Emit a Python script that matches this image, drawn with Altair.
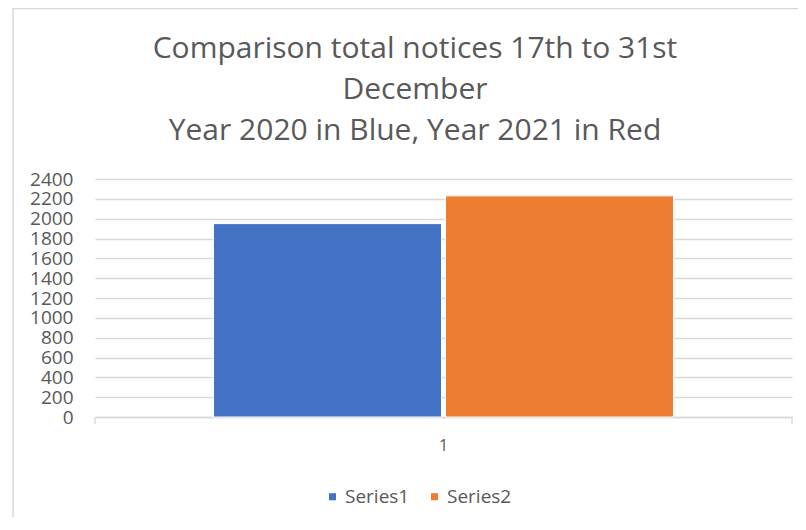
import altair as alt
import pandas as pd

categories = ["1", "1"]
series = ["Series1", "Series2"]
values = [1950, 2230]
colors = ["#4472C4", "#ED7D31"]
y_ticks = list(range(0, 2401, 200))
title_lines = [
    "Comparison total notices 17th to 31st",
    "December",
    "Year 2020 in Blue, Year 2021 in Red",
]

df = pd.DataFrame({"cat": categories, "series": series, "value": values})

W, H = 697, 238
FONT = "Open Sans"
GREY = "#595959"
LINE = "#d9d9d9"

bars = alt.Chart(df).mark_bar(stroke="white", strokeWidth=1).encode(
    x=alt.X(
        "cat:N",
        scale=alt.Scale(paddingInner=0, paddingOuter=0),
        axis=alt.Axis(
            title=None, labelAngle=0, ticks=False, domain=True,
            domainColor=LINE, domainWidth=1.3, labelFont=FONT, labelFontSize=16,
            labelColor=GREY, labelPadding=20,
        ),
    ),
    xOffset=alt.XOffset(
        "series:N", scale=alt.Scale(domain=series, paddingInner=0.01724, paddingOuter=0.5108)
    ),
    y=alt.Y(
        "value:Q",
        scale=alt.Scale(domain=[0, 2400], nice=False),
        axis=alt.Axis(
            values=y_ticks, format="d", title=None, domain=False, ticks=False,
            labelFont=FONT, labelFontSize=19, labelColor=GREY, labelPadding=22,
            labelOverlap=False, gridColor=LINE, gridWidth=1.3,
        ),
    ),
    color=alt.Color(
        "series:N",
        scale=alt.Scale(domain=series, range=colors),
        legend=alt.Legend(
            title=None, orient="none", legendX=228, legendY=308,
            direction="horizontal", symbolType="square", symbolSize=50,
            symbolStrokeWidth=0, labelFont=FONT, labelFontSize=19,
            labelColor=GREY, columnPadding=15, labelOffset=3,
        ),
    ),
)

one = pd.DataFrame({"a": [0]})
tick_l = alt.Chart(one).mark_rule(color=LINE, strokeWidth=1.3).encode(
    x=alt.value(0), y=alt.value(H), y2=alt.value(H + 7)
)
tick_r = alt.Chart(one).mark_rule(color=LINE, strokeWidth=1.3).encode(
    x=alt.value(W), y=alt.value(H), y2=alt.value(H + 7)
)
border_l = alt.Chart(one).mark_rule(color=LINE, strokeWidth=1.5).encode(
    x=alt.value(-82), y=alt.value(-171), y2=alt.value(H + 100)
)
border_t = alt.Chart(one).mark_rule(color=LINE, strokeWidth=1.5).encode(
    x=alt.value(-82), x2=alt.value(W + 6), y=alt.value(-170.5)
)

title_layers = []
for i, line in enumerate(title_lines):
    title_layers.append(
        alt.Chart(pd.DataFrame({"t": [line]})).mark_text(
            font=FONT, fontSize=30, color=GREY, align="center", baseline="alphabetic"
        ).encode(text="t:N", x=alt.value(320), y=alt.value(-121 + 41 * i))
    )

chart = alt.layer(border_l, border_t, bars, tick_l, tick_r, *title_layers).properties(
    width=W,
    height=H,
    padding={"left": 87, "top": 171, "right": 6, "bottom": 100},
    autosize="none",
).configure_view(stroke=None)

chart.save("out.html", embed_options={"renderer": "svg", "actions": False})
